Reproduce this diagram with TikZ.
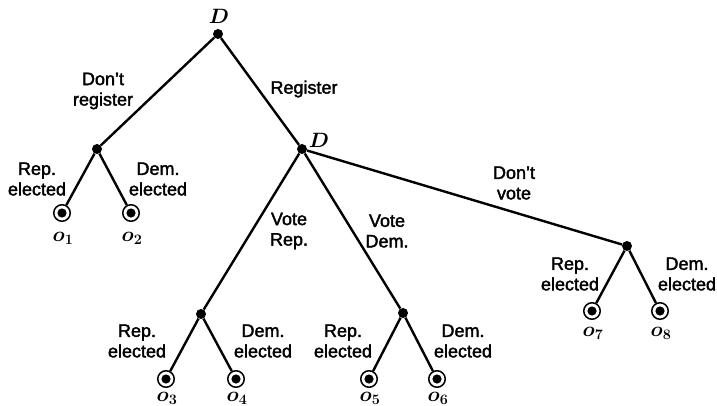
\documentclass[tikz,border=0pt]{standalone}
\usepackage{fontspec}
\setmainfont{Liberation Sans}[FakeBold=2]
\begin{document}
\begin{tikzpicture}[x=1pt,y=-1pt,
  dec/.style={circle,fill,inner sep=0pt,minimum size=10pt},
  term/.style={circle,draw,line width=1.5pt,inner sep=0pt,minimum size=16.5pt,
    path picture={\fill (path picture bounding box.center) circle (4.6pt);}},
  edge/.style={line width=2.4pt},
  lab/.style={font=\fontsize{18}{20.5}\selectfont,align=center,inner sep=0pt},
  olab/.style={font=\fontsize{21}{22}\selectfont\boldmath,inner sep=0pt},
  oolab/.style={font=\fontsize{21}{22}\selectfont\boldmath,inner sep=0pt}]
\useasboundingbox (0,0) rectangle (717,406);
% decision and chance nodes
\node[dec] (r) at (218,34) {};
\node[dec] (dr) at (97,149) {};
\node[dec] (rg) at (302,149) {};
\node[dec] (vr) at (201,314) {};
\node[dec] (vd) at (403,313) {};
\node[dec] (dv) at (627,246) {};
% terminals
\node[term] (o1) at (62,213) {};
\node[term] (o2) at (131,213) {};
\node[term] (o3) at (166,379) {};
\node[term] (o4) at (236,379) {};
\node[term] (o5) at (369,379) {};
\node[term] (o6) at (437,379) {};
\node[term] (o7) at (592,311) {};
\node[term] (o8) at (660,311) {};
% edges
\draw[edge] (r) -- (dr);
\draw[edge] (r) -- (rg);
\draw[edge] (dr) -- (o1);
\draw[edge] (dr) -- (o2);
\draw[edge] (rg) -- (vr);
\draw[edge] (rg) -- (vd);
\draw[edge] (rg) -- (dv);
\draw[edge] (vr) -- (o3);
\draw[edge] (vr) -- (o4);
\draw[edge] (vd) -- (o5);
\draw[edge] (vd) -- (o6);
\draw[edge] (dv) -- (o7);
\draw[edge] (dv) -- (o8);
% D labels
\node[olab] (d1) at (219,16) {$D$};
\node[olab] (d2) at (319,140) {$D$};
% outcome labels
\node[oolab] (l1) at (63,238) {$o_1$};
\node[oolab] (l2) at (132,238) {$o_2$};
\node[oolab] (l3) at (167,398) {$o_3$};
\node[oolab] (l4) at (237,398) {$o_4$};
\node[oolab] (l5) at (370,398) {$o_5$};
\node[oolab] (l6) at (438,398) {$o_6$};
\node[oolab] (l7) at (593,333) {$o_7$};
\node[oolab] (l8) at (661,333) {$o_8$};
% edge labels
\node[lab] (t1) at (103,91) {Don’t\\register};
\node[lab] (t2) at (304,89) {Register};
\node[lab] (t3) at (37,179) {Rep.\\elected};
\node[lab] (t4) at (158,179) {Dem.\\elected};
\node[lab] (t5) at (289,231) {Vote\\Rep.};
\node[lab] (t6) at (387,231) {Vote\\Dem.};
\node[lab] (t7) at (514,183) {Don’t\\vote};
\node[lab] (t8) at (137,341) {Rep.\\elected};
\node[lab] (t9) at (263,341) {Dem.\\elected};
\node[lab] (t10) at (343,341) {Rep.\\elected};
\node[lab] (t11) at (463,341) {Dem.\\elected};
\node[lab] (t12) at (570,274) {Rep.\\elected};
\node[lab] (t13) at (687,274) {Dem.\\elected};
\end{tikzpicture}
\end{document}
